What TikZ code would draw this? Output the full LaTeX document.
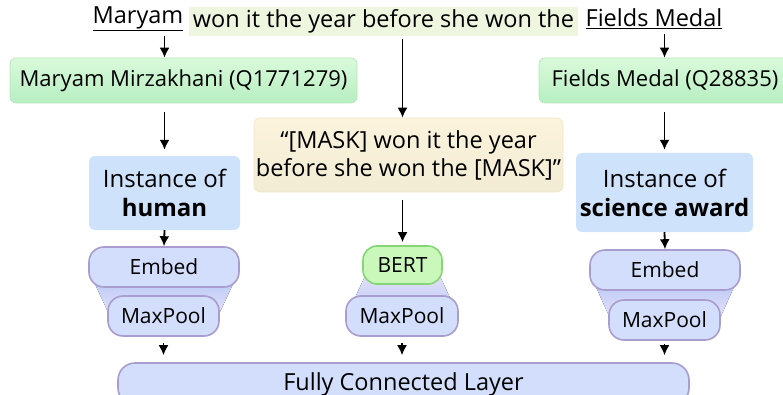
\documentclass[tikz,border=0pt]{standalone}
\usepackage{fontspec}
\setmainfont{Open Sans}
\usepackage{xcolor}
\usepackage{tikz}
\usetikzlibrary{arrows.meta}

\definecolor{hilite}{HTML}{EEF6E0}
\definecolor{greentop}{HTML}{DAFADA}
\definecolor{greenbot}{HTML}{B6EEC1}
\definecolor{greenline}{HTML}{B4E4B8}
\definecolor{creamtop}{HTML}{FBF3DC}
\definecolor{creambot}{HTML}{F3ECD4}
\definecolor{creamline}{HTML}{F0E6C8}
\definecolor{instblue}{HTML}{CFE2FC}
\definecolor{layerfill}{HTML}{D2DEFB}
\definecolor{layerline}{HTML}{A99DCF}
\definecolor{bertfill}{HTML}{CAF8BB}
\definecolor{bertline}{HTML}{86D576}
\definecolor{funnelblue}{HTML}{BFCCF7}
\definecolor{funnelpale}{HTML}{E2E0F9}

\begin{document}
\begin{tikzpicture}[x=1pt, y=-1pt, font=\fontsize{23.5}{28}\selectfont,
	entity/.style={draw=greenline, line width=0.6pt, rounded corners=6pt, top color=greentop, bottom color=greenbot, inner sep=0pt, font=\fontsize{22}{26}\selectfont},
	typebox/.style={fill=instblue, rounded corners=6pt, align=center, inner sep=0pt, font=\fontsize{24}{29}\selectfont},
	layer/.style={draw=layerline, line width=1.6pt, fill=layerfill, rounded corners=15pt, inner sep=0pt, font=\fontsize{21}{25}\selectfont},
	flow/.style={-{Latex[length=10pt,width=10pt]}, line width=1.8pt}]

\useasboundingbox (0,0) rectangle (783,395);
\clip (0,0) rectangle (783,395);

\fill[top color=funnelblue, bottom color=funnelpale] (95,284)--(233,284)--(220,312)--(108,312)--cycle;
\fill[top color=funnelblue, bottom color=funnelpale] (596,287)--(734,287)--(721,316)--(609,316)--cycle;
\fill[top color=funnelpale, bottom color=funnelblue] (366,274)--(439,274)--(457,313)--(348,313)--cycle;

\node[inner sep=2pt] (maryam) at (138,19) {\underline{Maryam}};
\node[fill=hilite, minimum width=389, minimum height=29, inner sep=0pt] (ctx) at (383.5,21.5) {won it the year before she won the};
\node[inner sep=2pt] (fields) at (654,19) {\underline{Fields Medal}};

\node[entity, minimum width=347, minimum height=45] (gm) at (183.5,80.5) {Maryam Mirzakhani (Q1771279)};
\node[entity, minimum width=252, minimum height=45] (gf) at (665,80.5) {Fields Medal (Q28835)};

\node[draw=creamline, line width=0.6pt, rounded corners=6pt, top color=creamtop, bottom color=creambot, minimum width=309, minimum height=74, align=center, inner sep=0pt] (mask) at (408.5,155) {“[MASK] won it the year\\before she won the [MASK]”};

\node[typebox, minimum width=151, minimum height=74] (inst1) at (164.5,193) {Instance of\\\textbf{human}};
\node[typebox, minimum width=177, minimum height=79] (inst2) at (664.5,192.5) {Instance of\\\textbf{science award}};

\node[layer, minimum width=150, minimum height=40] (emb1) at (164,267) {Embed};
\node[layer, minimum width=111, minimum height=40] (mp1) at (163.5,316) {MaxPool};

\node[layer, draw=bertline, fill=bertfill, rounded corners=14pt, minimum width=79, minimum height=38] (bert) at (402.5,265) {BERT};
\node[layer, minimum width=112, minimum height=40] (mp0) at (402,316) {MaxPool};

\node[layer, minimum width=150, minimum height=40] (emb2) at (665,270) {Embed};
\node[layer, minimum width=111, minimum height=40] (mp2) at (664.5,320) {MaxPool};

\node[layer, rounded corners=17pt, minimum width=571, minimum height=42, font=\fontsize{23.5}{28}\selectfont] (fc) at (403.5,384) {Fully Connected Layer};

\draw[flow, shorten <=3pt] (maryam.south -| inst1) -- (gm.north -| inst1);
\draw[flow, shorten <=3pt] (fields.south -| inst2) -- (gf.north -| inst2);
\draw[flow, shorten <=3pt] (ctx.south -| bert) -- (mask.north -| bert);

\draw[flow, shorten <=9pt, shorten >=6pt] (gm.south -| inst1) -- (inst1.north);
\draw[flow, shorten <=9pt, shorten >=3pt] (gf.south -| inst2) -- (inst2.north);
\draw[flow, shorten <=8pt, shorten >=3pt] (mask.south -| bert) -- (bert.north);

\draw[flow] (inst1.south) -- (emb1.north);
\draw[flow] (inst2.south) -- (emb2.north);

\draw[flow, shorten <=6pt, shorten >=7pt] (mp1.south) -- (fc.north -| mp1);
\draw[flow, shorten <=6pt, shorten >=7pt] (mp0.south) -- (fc.north -| mp0);
\draw[flow, shorten <=3pt, shorten >=7pt] (mp2.south) -- (fc.north -| mp2);

\end{tikzpicture}
\end{document}
